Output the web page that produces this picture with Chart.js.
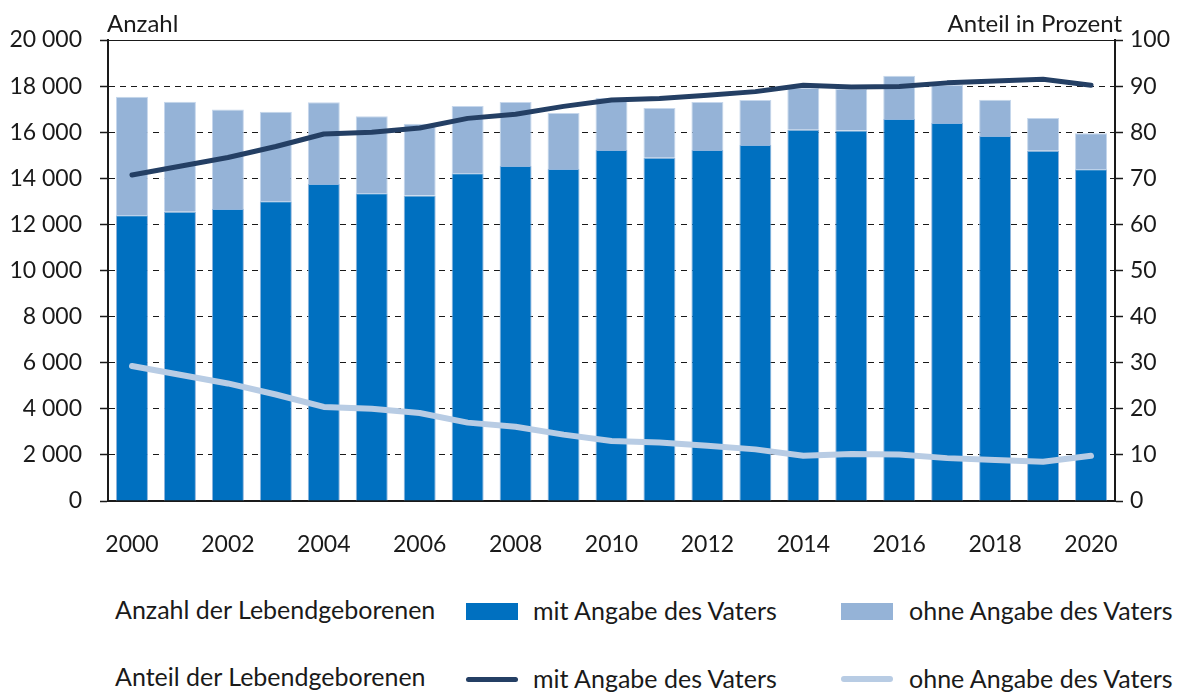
<!DOCTYPE html>
<html>
<head>
<meta charset="utf-8">
<script src="https://cdn.jsdelivr.net/npm/chart.js@4.4.0/dist/chart.umd.min.js"></script>
<style>
  body { margin: 0; background: #fff; font-family: Lato, sans-serif; color: #1a1a1a; }
  #wrap { position: relative; width: 1184px; height: 693px; }
  #c { position: absolute; left: 0; top: 0; }
  .t { position: absolute; font-size: 25px; line-height: 25px; white-space: nowrap; }
  .sw { position: absolute; }
</style>
</head>
<body>
<div id="wrap">
  <canvas id="c" width="1184" height="580"></canvas>
  <div class="t" style="left:107px; top:10px; font-size:24px;">Anzahl</div>
  <div class="t" style="right:62px; top:10px; font-size:24px;">Anteil in Prozent</div>

  <div class="t" style="left:115px; top:597px;">Anzahl der Lebendgeborenen</div>
  <div class="sw" style="left:466px; top:603px; width:52px; height:17px; background:#0070c0;"></div>
  <div class="t" style="left:533px; top:598px;">mit Angabe des Vaters</div>
  <div class="sw" style="left:841px; top:603px; width:52px; height:17px; background:#95b3d7;"></div>
  <div class="t" style="left:909px; top:598px;">ohne Angabe des Vaters</div>

  <div class="t" style="left:115px; top:664px;">Anteil der Lebendgeborenen</div>
  <div class="sw" style="left:466px; top:677px; width:52px; height:5px; border-radius:3px; background:#243f64;"></div>
  <div class="t" style="left:533px; top:666px;">mit Angabe des Vaters</div>
  <div class="sw" style="left:841px; top:676px; width:52px; height:6px; border-radius:3px; background:#b8cce4;"></div>
  <div class="t" style="left:909px; top:666px;">ohne Angabe des Vaters</div>
</div>
<script>
const years = ['2000', '2001', '2002', '2003', '2004', '2005', '2006', '2007', '2008', '2009', '2010',
               '2011', '2012', '2013', '2014', '2015', '2016', '2017', '2018', '2019', '2020'];

// Anzahl der Lebendgeborenen
const mitVater  = [12400, 12550, 12670, 13000, 13750, 13350, 13250, 14220, 14530, 14400, 15230,
                   14890, 15230, 15440, 16110, 16070, 16570, 16400, 15840, 15200, 14390];
const ohneVater = [5140, 4770, 4320, 3890, 3550, 3340, 3120, 2920, 2780, 2430, 2250,
                   2160, 2080, 1960, 1810, 1800, 1880, 1650, 1570, 1420, 1560];

// Anteil in Prozent
const anteilMit  = [70.7, 72.6, 74.5, 76.9, 79.6, 80.0, 80.9, 83.0, 83.9, 85.6, 87.0,
                    87.3, 88.0, 88.8, 90.2, 89.8, 89.9, 90.7, 91.1, 91.5, 90.2];
const anteilOhne = [29.3, 27.4, 25.5, 23.1, 20.4, 20.0, 19.1, 17.0, 16.1, 14.4, 13.0,
                    12.7, 12.0, 11.2, 9.8, 10.2, 10.1, 9.3, 8.9, 8.5, 9.8];

const tickFont = { family: 'Lato', size: 23 };
const black = '#1a1a1a';

function thousands(v) {
    return String(v).replace(/\B(?=(\d{3})+(?!\d))/g, ' ');
}

const ctx = document.getElementById('c').getContext('2d');
new Chart(ctx, {
    data: {
        labels: years,
        datasets: [
            {
                type: 'line', label: 'Anteil mit Angabe des Vaters', data: anteilMit, yAxisID: 'y1',
                borderColor: '#243f64', borderWidth: 5, tension: 0, pointRadius: 0,
                borderCapStyle: 'round', borderJoinStyle: 'round', order: 0
            },
            {
                type: 'line', label: 'Anteil ohne Angabe des Vaters', data: anteilOhne, yAxisID: 'y1',
                borderColor: '#b8cce4', borderWidth: 6, tension: 0, pointRadius: 0,
                borderCapStyle: 'round', borderJoinStyle: 'round', order: 0
            },
            {
                type: 'bar', label: 'mit Angabe des Vaters', data: mitVater, yAxisID: 'y',
                backgroundColor: '#0070c0', borderColor: '#8fb4dc', borderWidth: 1,
                barPercentage: 0.667, categoryPercentage: 1, order: 1
            },
            {
                type: 'bar', label: 'ohne Angabe des Vaters', data: ohneVater, yAxisID: 'y',
                backgroundColor: '#95b3d7', borderColor: '#c6d7ec', borderWidth: 1,
                barPercentage: 0.667, categoryPercentage: 1, order: 1
            }
        ]
    },
    options: {
        responsive: false,
        animation: false,
        layout: { padding: { top: 40, left: 0, right: 0, bottom: 0 } },
        plugins: { legend: { display: false }, tooltip: { enabled: false } },
        scales: {
            x: {
                stacked: true,
                grid: { display: false },
                border: { display: true, color: black, width: 2 },
                ticks: {
                    color: black, font: tickFont, padding: 22, autoSkip: false, maxRotation: 0,
                    callback: function (v, i) { return i % 2 === 0 ? years[i] : ''; }
                },
                afterFit: s => { s.height = 79; }
            },
            y: {
                position: 'left', stacked: true, min: 0, max: 20000,
                ticks: { stepSize: 2000, color: black, font: tickFont, padding: 18, callback: v => thousands(v) },
                grid: {
                    color: black, lineWidth: 1, tickLength: 8, tickColor: black, tickWidth: 1.5
                },
                border: {
                    display: true, color: black, width: 2,
                    dash: c => (c.tick && c.tick.value === 20000) ? [] : [6, 5]
                },
                afterFit: s => { s.width = 108; }
            },
            y1: {
                position: 'right', min: 0, max: 100,
                ticks: { stepSize: 10, color: black, font: tickFont, padding: 7 },
                grid: { drawOnChartArea: false, tickLength: 8, tickColor: black, tickWidth: 1.5 },
                border: { display: true, color: black, width: 2 },
                afterFit: s => { s.width = 69; }
            }
        }
    }
});
</script>
</body>
</html>
